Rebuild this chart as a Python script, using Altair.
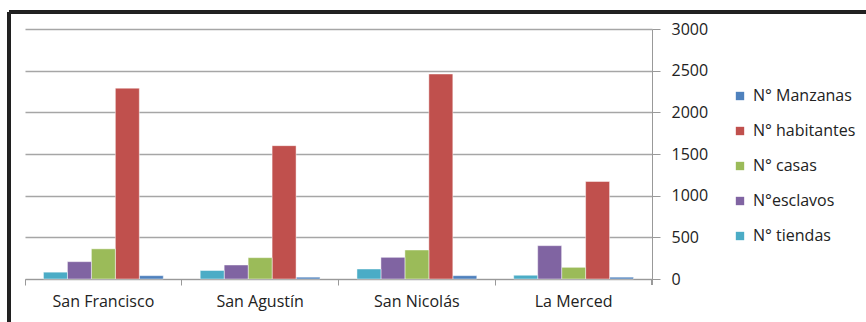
import altair as alt
import pandas as pd

categories = ["San Francisco", "San Agustín", "San Nicolás", "La Merced"]
series = ["N° Manzanas", "N° habitantes", "N° casas", "N°esclavos", "N° tiendas"]
manzanas = [40, 22, 40, 22]
habitantes = [2290, 1600, 2460, 1170]
casas = [362, 256, 348, 140]
esclavos = [208, 168, 260, 400]
tiendas = [82, 102, 120, 45]
colors = ["#4F81BD", "#C0504D", "#9BBB59", "#8064A2", "#4BACC6"]
y_ticks = [0, 500, 1000, 1500, 2000, 2500, 3000]

values = [manzanas, habitantes, casas, esclavos, tiendas]
rows = []
for s, vals in zip(series, values):
    for c, v in zip(categories, vals):
        rows.append({"Barrio": c, "Serie": s, "Valor": v})
df = pd.DataFrame(rows)

FONT = "Open Sans"
W, H = 627, 250

bars = alt.Chart(df).mark_bar(stroke="#ffffff", strokeOpacity=0.45, strokeWidth=1).encode(
    x=alt.X("Barrio:N", sort=categories,
            scale=alt.Scale(paddingInner=0, paddingOuter=0),
            axis=alt.Axis(title=None, labelAngle=0, bandPosition=0, domainColor="#999999",
                          tickColor="#999999", tickSize=6, labelFont=FONT, labelFontSize=16,
                          labelColor="#222222", labelPadding=8, grid=False)),
    xOffset=alt.XOffset("Serie:N", sort=series[::-1],
                        scale=alt.Scale(paddingInner=0, paddingOuter=0.77)),
    y=alt.Y("Valor:Q", scale=alt.Scale(domain=[0, 3000]),
            axis=alt.Axis(title=None, orient="right", values=y_ticks, format="d",
                          domainColor="#999999",
                          tickColor="#999999", tickSize=8, labelFont=FONT, labelFontSize=16,
                          labelColor="#222222", labelPadding=11, gridColor="#a6a6a6",
                          gridWidth=1.4)),
    color=alt.Color("Serie:N", sort=series,
                    scale=alt.Scale(domain=series, range=colors),
                    legend=alt.Legend(title=None, orient="none", legendX=707, legendY=59,
                                      symbolType="square", symbolSize=70, symbolStrokeWidth=0,
                                      labelFont=FONT, labelFontSize=16, labelColor="#222222",
                                      rowPadding=19, labelOffset=5, padding=0)),
)

frame_left = alt.Chart(df).mark_rule(color="#222222", strokeWidth=2.5).encode(
    x=alt.value(-16), y=alt.value(-17), y2=alt.value(300))
frame_top = alt.Chart(df).mark_rule(color="#222222", strokeWidth=2.5).encode(
    x=alt.value(-16), x2=alt.value(850), y=alt.value(-17))
end_tick = alt.Chart(df).mark_rule(color="#999999", strokeWidth=1).encode(
    x=alt.value(W), y=alt.value(H), y2=alt.value(H + 6))

chart = alt.layer(bars, frame_left, frame_top, end_tick).properties(
    width=W, height=H,
    autosize=alt.AutoSizeParams(type="none"),
    padding={"left": 25, "top": 29, "right": 866 - 25 - W, "bottom": 322 - 29 - H},
    background="white",
).configure_view(stroke=None)

chart.save("out.html", embed_options={"renderer": "svg", "actions": False})
